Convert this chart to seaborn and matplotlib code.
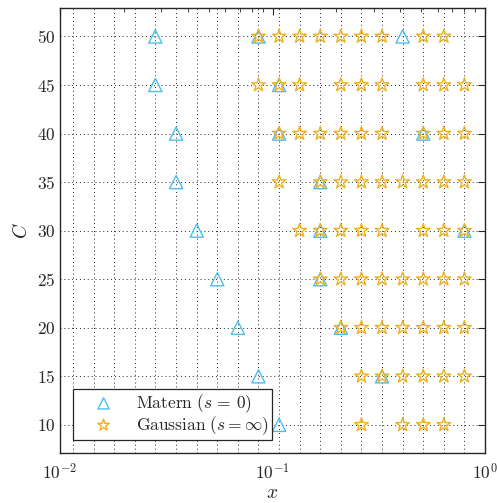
import numpy as np
import pandas as pd
import matplotlib
matplotlib.use("Agg")
import matplotlib.pyplot as plt
import seaborn as sns

# Candidate x values (geometric grid, ratio 0.8)
grid_x = [0.8, 0.64, 0.512, 0.4096, 0.3277, 0.2621, 0.2097, 0.1678, 0.1342,
          0.1074, 0.0859, 0.0687, 0.0550, 0.0440, 0.0352, 0.0281, 0.0225,
          0.0180, 0.0144, 0.0115]

c_levels = [10, 15, 20, 25, 30, 35, 40, 45, 50]

# Matern (s = 0): x values at each C level
matern_x = {
    50: [0.0281, 0.0859, 0.4096],
    45: [0.0281, 0.1074],
    40: [0.0352, 0.1074, 0.512],
    35: [0.0352, 0.1678],
    30: [0.0440, 0.1678, 0.8],
    25: [0.0550, 0.1678],
    20: [0.0687, 0.2097],
    15: [0.0859, 0.3277],
    10: [0.1074],
}

# Gaussian (s = inf): x values at each C level
gauss_x = {
    50: [0.64, 0.512, 0.3277, 0.2621, 0.2097, 0.1678, 0.1342, 0.1074, 0.0859],
    45: [0.8, 0.64, 0.512, 0.3277, 0.2621, 0.2097, 0.1342, 0.1074, 0.0859],
    40: [0.8, 0.64, 0.512, 0.3277, 0.2621, 0.2097, 0.1678, 0.1342, 0.1074],
    35: [0.8, 0.64, 0.512, 0.4096, 0.3277, 0.2621, 0.2097, 0.1678, 0.1074],
    30: [0.8, 0.64, 0.512, 0.3277, 0.2621, 0.2097, 0.1678, 0.1342],
    25: [0.8, 0.64, 0.512, 0.4096, 0.3277, 0.2621, 0.2097, 0.1678],
    20: [0.8, 0.64, 0.512, 0.4096, 0.3277, 0.2621, 0.2097],
    15: [0.8, 0.64, 0.512, 0.4096, 0.3277, 0.2621],
    10: [0.64, 0.512, 0.4096, 0.2621],
}

y_ticks = [10, 15, 20, 25, 30, 35, 40, 45, 50]
x_ticks = [0.01, 0.1, 1.0]
x_tick_labels = [r"$10^{-2}$", r"$10^{-1}$", r"$10^{0}$"]

labels = [r"$\mathrm{Matern}\ (s\,=\,0)$", r"$\mathrm{Gaussian}\ (s=\infty)$"]
colors = ["#4DBEEE", "#EDB120"]


def to_frame(table):
    rows = [(x, c) for c in c_levels for x in table.get(c, [])]
    return pd.DataFrame(rows, columns=["x", "C"])


matern_df = to_frame(matern_x)
gauss_df = to_frame(gauss_x)

sns.set_style("white")
plt.rcParams["mathtext.fontset"] = "cm"
plt.rcParams["font.family"] = ["DejaVu Serif"]

fig = plt.figure(figsize=(4.97, 5.03), dpi=100)
ax = fig.add_axes([0.1207, 0.0994, 0.8552, 0.8841])

ax.set_xscale("log")
ax.set_xlim(0.01, 1.0)
ax.set_ylim(7.1, 52.9)

# dotted grid
grid_kw = dict(color="#262626", linewidth=0.7, linestyle=(0, (1, 3)), zorder=0.5)
for gx in grid_x:
    ax.axvline(gx, **grid_kw)
for gy in y_ticks:
    ax.axhline(gy, **grid_kw)

sns.scatterplot(data=matern_df, x="x", y="C", marker="^", s=90,
                color=colors[0], facecolors="none", edgecolors=colors[0],
                linewidth=1.0, label=labels[0], ax=ax, zorder=3)
sns.scatterplot(data=gauss_df, x="x", y="C", marker="*", s=105,
                color=colors[1], facecolors="none", edgecolors=colors[1],
                linewidth=1.0, label=labels[1], ax=ax, zorder=3)

ax.set_xticks(x_ticks, labels=x_tick_labels)
ax.set_yticks(y_ticks, labels=[rf"${v}$" for v in y_ticks])
ax.tick_params(axis="both", which="both", direction="in", top=True, right=True,
               colors="#262626", labelcolor="#262626", labelsize=12.5)
ax.tick_params(which="major", length=5, width=0.8)
ax.tick_params(which="minor", length=3, width=0.6)
ax.tick_params(axis="x", which="major", pad=7)

for sp in ax.spines.values():
    sp.set_color("#262626")
    sp.set_linewidth(1.0)
    sp.set_visible(True)

ax.set_xlabel(r"$x$", fontsize=14, color="#262626", labelpad=1)
ax.set_ylabel(r"$C$", fontsize=14, color="#262626", labelpad=4)

leg = ax.legend(loc="lower left", bbox_to_anchor=(0.031, 0.029), borderaxespad=0,
                fontsize=12.5, frameon=True, fancybox=False, framealpha=1,
                edgecolor="#262626", handletextpad=0.3, borderpad=0.2,
                labelspacing=-0.05, handlelength=3.1, markerscale=0.85)
leg.get_frame().set_linewidth(0.9)
leg.set_zorder(5)

fig.savefig("out.png", dpi=100)
